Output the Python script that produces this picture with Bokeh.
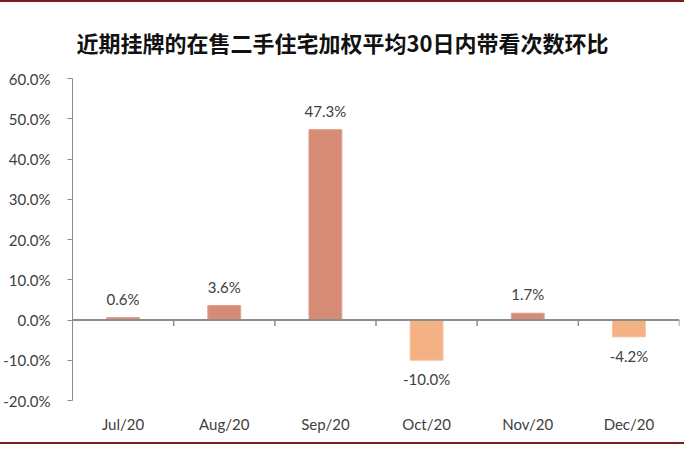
from bokeh.plotting import figure
from bokeh.models import (ColumnDataSource, Range1d, FixedTicker, NumeralTickFormatter,
                          Span, Title)
from bokeh.core.properties import value
from bokeh.embed import file_html
from bokeh.resources import INLINE

months = ["Jul/20", "Aug/20", "Sep/20", "Oct/20", "Nov/20", "Dec/20"]
changes = [0.006, 0.036, 0.473, -0.100, 0.017, -0.042]
y_ticks = [-0.2, -0.1, 0.0, 0.1, 0.2, 0.3, 0.4, 0.5, 0.6]
title_text = "近期挂牌的在售二手住宅加权平均30日内带看次数环比"

POS_FILL = "#D68B77"
POS_LINE = "#E3A08E"
NEG_FILL = "#F4B183"
NEG_LINE = "#F8C4A0"
AXIS_COL = "#8C8C8C"
TEXT_COL = "#404040"
NUM_FONT = "Lato"

n = len(months)
centers = [i + 0.5 for i in range(n)]
fills = [POS_FILL if v >= 0 else NEG_FILL for v in changes]
lines = [POS_LINE if v >= 0 else NEG_LINE for v in changes]
labels = [f"{v*100:.1f}%" for v in changes]

src = ColumnDataSource(dict(x=centers, top=changes, fill=fills, line=lines, label=labels))
pos_src = ColumnDataSource(dict(x=[c for c, v in zip(centers, changes) if v >= 0],
                                y=[v for v in changes if v >= 0],
                                label=[l for l, v in zip(labels, changes) if v >= 0]))
neg_src = ColumnDataSource(dict(x=[c for c, v in zip(centers, changes) if v < 0],
                                y=[v for v in changes if v < 0],
                                label=[l for l, v in zip(labels, changes) if v < 0]))

p = figure(width=684, height=444, output_backend="svg", toolbar_location=None,
           x_range=Range1d(0, n), y_range=Range1d(y_ticks[0], y_ticks[-1]),
           min_border_left=69, min_border_right=5, min_border_top=72, min_border_bottom=46)
p.outline_line_color = None
p.grid.visible = False
p.background_fill_color = "white"
p.border_fill_color = "white"
p.styles = {"border-top": "2px solid #7A1F1F", "border-bottom": "2px solid #7A1F1F"}

p.add_layout(Title(text=title_text, align="left", offset=4, text_font="Noto Sans CJK SC",
                   text_font_size="22px", text_font_style="bold", text_color="#111111",
                   standoff=42), "above")

p.vbar(x="x", top="top", bottom=0, width=0.325, source=src,
       fill_color="fill", line_color="line", line_width=1)

# zero line with category-boundary ticks
p.add_layout(Span(location=0, dimension="width", line_color=AXIS_COL, line_width=2))
bounds = list(range(1, n + 1))
tick_len = (y_ticks[-1] - y_ticks[0]) / 321 * 6
p.segment(x0=bounds, y0=[0] * len(bounds), x1=bounds, y1=[-tick_len] * len(bounds),
          line_color=AXIS_COL, line_width=1.5)

p.text(x="x", y="y", text="label", source=pos_src, text_align="center",
       text_baseline="bottom", y_offset=-10, text_font=value(NUM_FONT),
       text_font_size="15px", text_color=TEXT_COL)
p.text(x="x", y="y", text="label", source=neg_src, text_align="center",
       text_baseline="top", y_offset=10, text_font=value(NUM_FONT),
       text_font_size="15px", text_color=TEXT_COL)

# y axis
ya = p.yaxis[0]
ya.ticker = FixedTicker(ticks=y_ticks)
ya.formatter = NumeralTickFormatter(format="0.0%")
ya.axis_line_color = AXIS_COL
ya.major_tick_line_color = AXIS_COL
ya.major_tick_out = 5
ya.major_tick_in = 0
ya.minor_tick_line_color = None
ya.major_label_standoff = 17
ya.major_label_text_font = NUM_FONT
ya.major_label_text_font_size = "15px"
ya.major_label_text_color = TEXT_COL

# x axis (labels only, below the frame)
xa = p.xaxis[0]
xa.ticker = FixedTicker(ticks=centers)
xa.major_label_overrides = {c: m for c, m in zip(centers, months)}
xa.axis_line_color = None
xa.major_tick_line_color = None
xa.minor_tick_line_color = None
xa.major_label_standoff = 8
xa.major_label_text_font = NUM_FONT
xa.major_label_text_font_size = "15px"
xa.major_label_text_color = TEXT_COL

open("out.html", "w").write(file_html(p, INLINE))
